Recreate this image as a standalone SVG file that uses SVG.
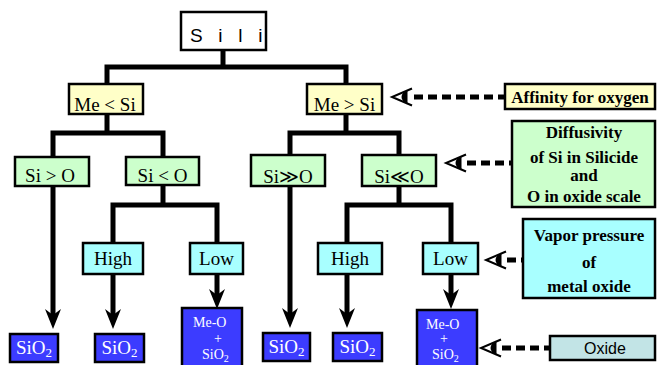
<svg xmlns="http://www.w3.org/2000/svg" xmlns:xlink="http://www.w3.org/1999/xlink" width="657" height="365" viewBox="0 0 657 365">
<style>
.box{stroke:#000;stroke-width:2.5}
.yel{fill:#ffffc8}
.grn{fill:#ccffcc}
.cya{fill:#a8ffff}
.blu{fill:#3c3cff}
.oxd{fill:#c2e4e6}
.t{font-family:"Liberation Serif","Times New Roman",serif;font-size:19px;fill:#000;text-anchor:middle}
.w{font-family:"Liberation Serif","Times New Roman",serif;font-size:19px;fill:#fff;text-anchor:middle}
.ws{font-family:"Liberation Serif","Times New Roman",serif;font-size:14px;fill:#fff}
.b{font-family:"Liberation Serif","Times New Roman",serif;font-size:17px;font-weight:bold;fill:#000;text-anchor:middle}
.s{font-family:"Liberation Sans",Arial,sans-serif;fill:#000}
.ln{stroke:#000;stroke-width:5;fill:none}
.dash{stroke:#000;stroke-width:5;fill:none;stroke-dasharray:9 5}
</style>
<defs>
<marker id="ah" markerUnits="userSpaceOnUse" viewBox="0 0 20 16" refX="9" refY="8" markerWidth="20" markerHeight="16" orient="auto">
<path d="M20 8 L0 0 L6 8 L0 16 Z" fill="#000"/>
</marker>
<g id="eye">
<path d="M20 -8.5 L0 0 L20 8.5" fill="none" stroke="#000" stroke-width="2"/>
<path d="M15.5 -6 A6 6 0 0 0 15.5 6 Z" fill="#000"/>
</g>
</defs>

<g id="connectors">
<path class="ln" d="M223 50 V67 M107 84 V67 H346 V84"/>
<path class="ln" d="M107 114 V133 M53 157 V133 H163 V157"/>
<path class="ln" d="M346 114 V133 M290 155 V133 H399 V155"/>
<path class="ln" d="M163 185 V205 M113 243 V205 H217 V243"/>
<path class="ln" d="M399 186 V205 M347 243 V205 H451 V243"/>
<path class="ln" marker-end="url(#ah)" d="M53 186 V318"/>
<path class="ln" marker-end="url(#ah)" d="M113 274 V318"/>
<path class="ln" marker-end="url(#ah)" d="M217 274 V298"/>
<path class="ln" marker-end="url(#ah)" d="M290 186 V317"/>
<path class="ln" marker-end="url(#ah)" d="M347 274 V317"/>
<path class="ln" marker-end="url(#ah)" d="M451 274 V298"/>
<path class="dash" d="M414 97 H505"/>
<path class="dash" d="M467 163 H512"/>
<path class="dash" d="M507 260 H523"/>
<path class="dash" d="M502 348 H550"/>
<use xlink:href="#eye" x="392" y="97"/>
<use xlink:href="#eye" x="446" y="163"/>
<use xlink:href="#eye" x="486" y="260"/>
<use xlink:href="#eye" x="481" y="348"/>
</g>

<g id="root">
<rect class="box" x="181" y="12" width="85" height="38" fill="#fff"/>
<text class="s" x="190" y="42" font-size="19" letter-spacing="5.2">S i l i</text>
</g>

<g id="me-lt-si"><rect class="box yel" x="69" y="84" width="74" height="30"/><text class="t" x="105" y="111">Me &lt; Si</text></g>
<g id="me-gt-si"><rect class="box yel" x="307" y="84" width="75" height="30"/><text class="t" x="344.5" y="111">Me &gt; Si</text></g>

<g id="si-gt-o"><rect class="box grn" x="15" y="157" width="74" height="29"/><text class="t" x="50" y="182">Si &gt; O</text></g>
<g id="si-lt-o"><rect class="box grn" x="126" y="157" width="73" height="28"/><text class="t" x="162.5" y="182">Si &lt; O</text></g>
<g id="si-gg-o"><rect class="box grn" x="251" y="155" width="74" height="31"/><text class="t" x="288" y="183">Si≫O</text></g>
<g id="si-ll-o"><rect class="box grn" x="362" y="155" width="74" height="31"/><text class="t" x="399" y="183">Si≪O</text></g>

<g id="high-l"><rect class="box cya" x="83" y="243" width="60" height="31"/><text class="t" x="113" y="265">High</text></g>
<g id="low-l"><rect class="box cya" x="190" y="243" width="53" height="31"/><text class="t" x="216.5" y="265">Low</text></g>
<g id="high-r"><rect class="box cya" x="318" y="243" width="64" height="31"/><text class="t" x="350" y="265">High</text></g>
<g id="low-r"><rect class="box cya" x="423" y="243" width="55" height="31"/><text class="t" x="450.5" y="265">Low</text></g>

<g id="sio2-1"><rect class="box blu" x="10" y="334" width="48" height="28"/><text class="w" x="34" y="354">SiO<tspan font-size="13" dy="3">2</tspan></text></g>
<g id="sio2-2"><rect class="box blu" x="95" y="334" width="49" height="28"/><text class="w" x="119.5" y="354">SiO<tspan font-size="13" dy="3">2</tspan></text></g>
<g id="sio2-3"><rect class="box blu" x="263" y="333" width="47" height="28"/><text class="w" x="286.5" y="353">SiO<tspan font-size="13" dy="3">2</tspan></text></g>
<g id="sio2-4"><rect class="box blu" x="333" y="333" width="49" height="28"/><text class="w" x="357.5" y="353">SiO<tspan font-size="13" dy="3">2</tspan></text></g>

<g id="meo-l"><rect class="box blu" x="182" y="308" width="60" height="62"/>
<text class="ws" x="193" y="327">Me-O</text><text class="ws" x="214" y="343">+</text><text class="ws" x="202" y="359">SiO<tspan font-size="10" dy="3">2</tspan></text></g>
<g id="meo-r"><rect class="box blu" x="417" y="310" width="60" height="60"/>
<text class="ws" x="426" y="329" font-size="13">Me-O</text><text class="ws" x="440" y="343" font-size="13">+</text><text class="ws" x="432" y="359" font-size="13">SiO<tspan font-size="10" dy="3">2</tspan></text></g>

<g id="affinity"><rect class="box yel" x="505" y="84" width="150" height="25"/><text class="b" x="580" y="102.5">Affinity for oxygen</text></g>
<g id="diffusivity"><rect class="box grn" x="512" y="121" width="143" height="86"/>
<text class="b" x="584" y="138">Diffusivity</text><text class="b" x="584" y="163">of Si in Silicide</text><text class="b" x="584" y="181">and</text><text class="b" x="584" y="202">O in oxide scale</text></g>
<g id="vapor"><rect class="box cya" x="523" y="219" width="132" height="79"/>
<text class="b" x="589" y="241">Vapor pressure</text><text class="b" x="589" y="268">of</text><text class="b" x="589" y="292">metal oxide</text></g>
<g id="oxide"><rect class="box oxd" x="550" y="336" width="105" height="24"/><text class="s" x="605" y="354" font-size="16" text-anchor="middle">Oxide</text></g>
</svg>
